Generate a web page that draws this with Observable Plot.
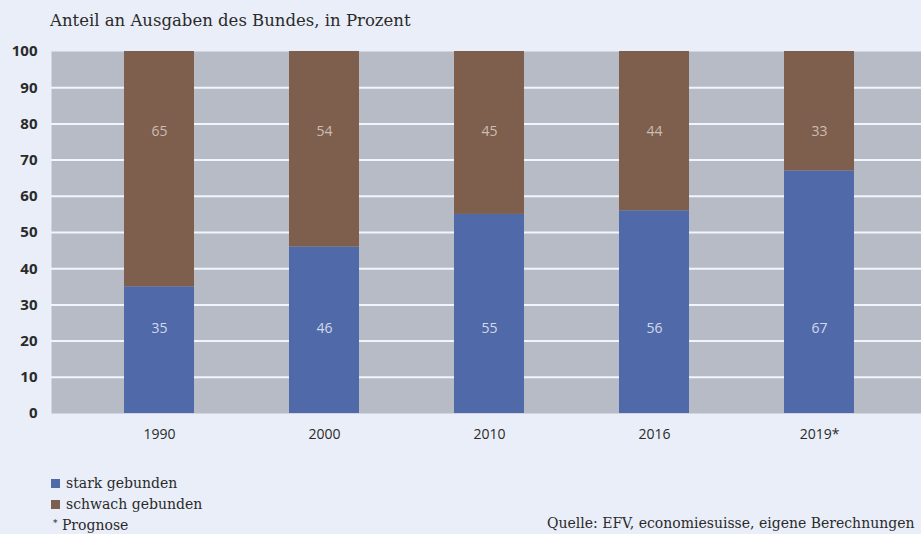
<!DOCTYPE html>
<html><head><meta charset="utf-8">
<script src="https://cdn.jsdelivr.net/npm/d3@7"></script>
<script src="https://cdn.jsdelivr.net/npm/@observablehq/plot@0.6"></script>
<style>
body{margin:0;background:#e9eef8;width:921px;height:534px;overflow:hidden;position:relative;font-family:"DejaVu Serif",serif;color:#2a2a2a;}
#title{position:absolute;left:50px;top:11px;font-size:16.5px;line-height:19px;white-space:nowrap;}
#chart{position:absolute;left:0;top:36px;}
.row{position:absolute;left:51px;font-size:14px;line-height:17px;white-space:nowrap;}
.sw{display:inline-block;width:9px;height:9px;margin-right:6px;vertical-align:0px;}
#source{position:absolute;left:547px;top:515px;font-size:14px;line-height:17px;white-space:nowrap;}
</style></head>
<body>
<div id="title">Anteil an Ausgaben des Bundes, in Prozent</div>
<div id="chart"></div>
<div id="legend"></div>
<div class="row" id="note" style="top:515px;left:53px;"><span style="font-size:9px;vertical-align:4px;">*</span> Prognose</div>
<div id="source">Quelle: EFV, economiesuisse, eigene Berechnungen</div>
<script>
const years = ["1990", "2000", "2010", "2016", "2019*"];
const stark = [35, 46, 55, 56, 67];
const schwach = [65, 54, 45, 44, 33];
const series = ["stark gebunden", "schwach gebunden"];
const colors = ["#5069a8", "#7e5f4d"];
const yTicks = [0, 10, 20, 30, 40, 50, 60, 70, 80, 90, 100];

const data = years.flatMap((y, i) => [
  {year: y, group: series[0], value: stark[i]},
  {year: y, group: series[1], value: schwach[i]}
]);

const chart = Plot.plot({
  width: 921,
  height: 414,
  marginTop: 15,
  marginBottom: 37,
  marginLeft: 51,
  marginRight: 0,
  style: {background: "transparent", fontFamily: "'Open Sans', sans-serif", fontSize: "14px", color: "#2a2a2a"},
  x: {domain: years, range: [51, 927], paddingInner: 0.576, paddingOuter: 0.442, label: null},
  y: {domain: [0, 100], label: null},
  color: {domain: series, range: colors},
  marks: [
    Plot.frame({fill: "#b7bbc5", stroke: null}),
    Plot.gridY(yTicks.filter(t => t > 0 && t < 100), {stroke: "#f2f5fb", strokeOpacity: 1, strokeWidth: 2}),
    Plot.barY(data, {x: "year", y: "value", fill: "group", order: series}),
    Plot.text(data, {x: "year", y: d => d.group === series[0] ? 23.5 : 78, text: d => String(d.value),
      fill: d => d.group === series[0] ? "#d3d9ec" : "#cbbdb3", fontSize: 14}),
    Plot.axisX({tickSize: 0, tickPadding: 16, fontSize: 14, label: null}),
    Plot.axisY(yTicks, {tickSize: 0, tickPadding: 14, fontSize: 15, fontWeight: "bold", label: null})
  ]
});
document.getElementById("chart").appendChild(chart);

const legend = document.getElementById("legend");
series.forEach((s, i) => {
  const row = document.createElement("div");
  row.className = "row";
  row.style.top = (475 + i * 21) + "px";
  row.innerHTML = `<span class="sw" style="background:${colors[i]}"></span>${s}`;
  legend.appendChild(row);
});
</script>
</body></html>
